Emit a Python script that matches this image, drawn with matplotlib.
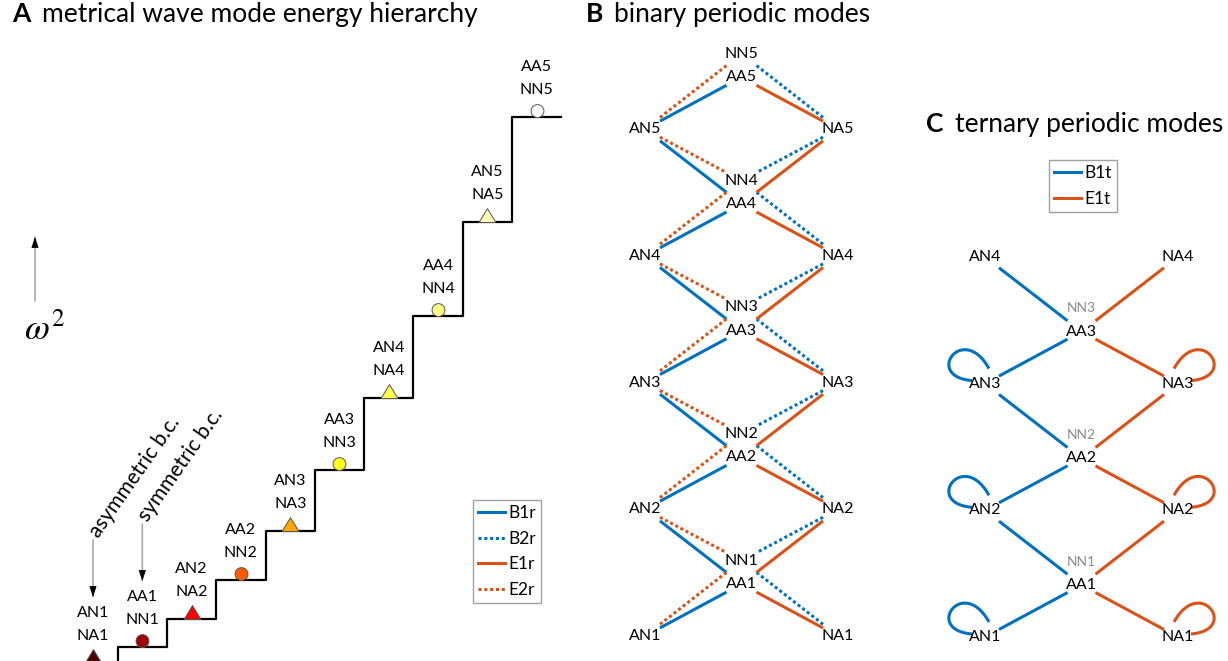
import numpy as np
import matplotlib
matplotlib.use("Agg")
import matplotlib.pyplot as plt
from matplotlib.lines import Line2D
from matplotlib.path import Path
from matplotlib import transforms

plt.rcParams['font.family'] = ['Lato', 'DejaVu Sans']
plt.rcParams['mathtext.fontset'] = 'stix'

W, H = 1228, 661
BLUE = '#0072BD'
ORANGE = '#D95319'

# ---- panel A: energy ladder ----
step_modes = [("AN1", "NA1"), ("AA1", "NN1"), ("AN2", "NA2"), ("AA2", "NN2"),
              ("AN3", "NA3"), ("AA3", "NN3"), ("AN4", "NA4"), ("AA4", "NN4"),
              ("AN5", "NA5"), ("AA5", "NN5")]
omega2 = [0, 16, 44, 83, 132, 193, 265, 347, 441, 546]
step_colors = ["#4a0000", "#a00000", "#ff0000", "#ff5a00", "#ffa500",
               "#ffff20", "#ffff4a", "#ffff85", "#ffffb5", "#ffffff"]
bc_labels = ["asymmetric b.c.", "symmetric b.c."]

# ---- panel B: binary periodic modes ----
b_nodes = ["AN1", "AN2", "AN3", "AN4", "AN5", "NA1", "NA2", "NA3", "NA4", "NA5",
           "AA1", "AA2", "AA3", "AA4", "AA5", "NN1", "NN2", "NN3", "NN4", "NN5"]
b_edges = {
    "B1r": [("AN1", "AA1"), ("AN2", "AA1"), ("AN2", "AA2"), ("AN3", "AA2"), ("AN3", "AA3"),
            ("AN4", "AA3"), ("AN4", "AA4"), ("AN5", "AA4"), ("AN5", "AA5")],
    "B2r": [("NA1", "NN1"), ("NA2", "NN1"), ("NA2", "NN2"), ("NA3", "NN2"), ("NA3", "NN3"),
            ("NA4", "NN3"), ("NA4", "NN4"), ("NA5", "NN4"), ("NA5", "NN5")],
    "E1r": [("NA1", "AA1"), ("NA2", "AA1"), ("NA2", "AA2"), ("NA3", "AA2"), ("NA3", "AA3"),
            ("NA4", "AA3"), ("NA4", "AA4"), ("NA5", "AA4"), ("NA5", "AA5")],
    "E2r": [("AN1", "NN1"), ("AN2", "NN1"), ("AN2", "NN2"), ("AN3", "NN2"), ("AN3", "NN3"),
            ("AN4", "NN3"), ("AN4", "NN4"), ("AN5", "NN4"), ("AN5", "NN5")],
}
b_styles = {"B1r": (BLUE, '-'), "B2r": (BLUE, (0, (1, 0.9))),
            "E1r": (ORANGE, '-'), "E2r": (ORANGE, (0, (1, 0.9)))}

# ---- panel C: ternary periodic modes ----
c_nodes = ["AN1", "AN2", "AN3", "AN4", "NA1", "NA2", "NA3", "NA4", "AA1", "AA2", "AA3"]
c_faint = ["NN1", "NN2", "NN3"]
c_edges = {
    "B1t": [("AN1", "AA1"), ("AN2", "AA1"), ("AN2", "AA2"), ("AN3", "AA2"), ("AN3", "AA3"), ("AN4", "AA3")],
    "E1t": [("NA1", "AA1"), ("NA2", "AA1"), ("NA2", "AA2"), ("NA3", "AA2"), ("NA3", "AA3"), ("NA4", "AA3")],
}
c_loops = {"B1t": ["AN1", "AN2", "AN3"], "E1t": ["NA1", "NA2", "NA3"]}
c_colors = {"B1t": BLUE, "E1t": ORANGE}

fig = plt.figure(figsize=(W / 100, H / 100), dpi=100)
LAB = 11.5


def overlay_axes(x0, sx, y0, sy):
    # data (0, 0) at pixel (x0, y0) counted from top-left, sx/sy pixels per unit
    ax = fig.add_axes([0, 0, 1, 1])
    ax.set_xlim(-x0 / sx, (W - x0) / sx)
    ax.set_ylim((y0 - H) / sy, y0 / sy)
    ax.axis("off")
    ax.patch.set_alpha(0)
    return ax


def node_xy(name):
    kind, k = name[:2], int(name[2:])
    x = {"AN": 0, "AA": 1, "NN": 1, "NA": 2}[kind]
    y = k - 1 + {"AN": 0, "NA": 0, "AA": 0.41, "NN": 0.595}[kind]
    return x, y


def draw_edge(ax, a, b, color, ls, trim=0.155):
    (x1, y1), (x2, y2) = node_xy(a), node_xy(b)
    t = np.array([trim, 1 - trim])
    ax.plot(x1 + (x2 - x1) * t, y1 + (y2 - y1) * t, color=color, ls=ls, lw=2.2,
            solid_capstyle='butt')


# ================= A =================
axA = overlay_axes(93, 49.3, 663, 1.0)
axA.step(np.arange(len(omega2) + 1) - 0.5, omega2 + [omega2[-1]], where='post',
         color='black', lw=1.6)

tri = Path([(-1, 0), (1, 0), (0, 1.65), (-1, 0)], closed=True)
circ = Path.unit_circle().transformed(transforms.Affine2D().translate(0, 1))
for i, (top, bottom) in enumerate(step_modes):
    if top.startswith("AN"):
        axA.plot(i, omega2[i], marker=tri, ms=20, mfc=step_colors[i], mec='#555555',
                 mew=0.7, clip_on=False)
    else:
        axA.plot(i, omega2[i], marker=circ, ms=18.5, mfc=step_colors[i], mec='#555555',
                 mew=0.7, clip_on=False)
    axA.annotate(top, (i, omega2[i]), xytext=(0, 36), textcoords='offset points',
                 ha='center', va='center', fontsize=LAB, annotation_clip=False)
    axA.annotate(bottom, (i, omega2[i]), xytext=(0, 19.4), textcoords='offset points',
                 ha='center', va='center', fontsize=LAB, annotation_clip=False)

for i, lab in enumerate(bc_labels):
    tip = transforms.offset_copy(axA.transData, fig=fig, x=0, y=66, units='dots')
    tail = transforms.offset_copy(axA.transData, fig=fig, x=0, y=123, units='dots')
    head = transforms.offset_copy(axA.transData, fig=fig, x=0, y=76, units='dots')
    axA.annotate('', xy=(i, omega2[i]), xycoords=tip, xytext=(i, omega2[i]), textcoords=tail,
                 arrowprops=dict(arrowstyle='-', color='#aaaaaa', lw=1.2, shrinkA=0, shrinkB=0))
    axA.annotate('', xy=(i, omega2[i]), xycoords=tip, xytext=(i, omega2[i]), textcoords=head,
                 arrowprops=dict(arrowstyle='-|>,head_length=0.6,head_width=0.2', color='black',
                                 lw=0.6, mutation_scale=11, shrinkA=0, shrinkB=0))
    ttrans = transforms.offset_copy(axA.transData, fig=fig, x=1, y=128, units='dots')
    axA.text(i, omega2[i], lab, transform=ttrans, rotation=55, rotation_mode='anchor',
             ha='left', va='center', fontsize=15)

axA.annotate('', xy=(35, H - 237), xycoords='figure pixels', xytext=(35, H - 301),
             textcoords='figure pixels',
             arrowprops=dict(arrowstyle='-', color='#aaaaaa', lw=1.2, shrinkA=0, shrinkB=0))
axA.annotate('', xy=(35, H - 237), xycoords='figure pixels', xytext=(35, H - 247),
             textcoords='figure pixels',
             arrowprops=dict(arrowstyle='-|>,head_length=0.6,head_width=0.2', color='black',
                             lw=0.6, mutation_scale=11, shrinkA=0, shrinkB=0))
fig.text(24 / W, 1 - 340 / H, r'$\omega^2$', fontsize=26, ha='left', va='baseline')

# ================= B =================
axB = overlay_axes(645, 96.5, 636, 126.7)
for key, pairs in b_edges.items():
    color, ls = b_styles[key]
    for a, b in pairs:
        draw_edge(axB, a, b, color, ls)
for name in b_nodes:
    x, y = node_xy(name)
    axB.text(x, y, name, ha='center', va='center', fontsize=LAB)

# ================= C =================
axC = overlay_axes(985, 96.5, 637, 126.7)
for key, pairs in c_edges.items():
    for a, b in pairs:
        draw_edge(axC, a, b, c_colors[key], '-', trim=0.145)

# loop shape as pixel offsets from the node centre (cubic Bezier)
ctrl = np.array([(-13, 3), (-62, 7), (-22, 62), (4, 15)], dtype=float)
tt = np.linspace(0, 1, 60)[:, None]
bez = ((1 - tt) ** 3 * ctrl[0] + 3 * (1 - tt) ** 2 * tt * ctrl[1]
       + 3 * (1 - tt) * tt ** 2 * ctrl[2] + tt ** 3 * ctrl[3])
for key, names in c_loops.items():
    for name in names:
        x, y = node_xy(name)
        sgn = -1 if name.startswith("NA") else 1
        axC.plot(x + sgn * bez[:, 0] / 96.5, y + bez[:, 1] / 126.7,
                 color=c_colors[key], lw=2.2, solid_capstyle='butt')
for name in c_nodes:
    x, y = node_xy(name)
    axC.text(x, y, name, ha='center', va='center', fontsize=LAB)
for name in c_faint:
    x, y = node_xy(name)
    axC.text(x, y, name, ha='center', va='center', fontsize=10, color='#8c8c8c')

# ================= legends & titles =================
leg_kw = dict(loc='upper left', fontsize=12.5, frameon=True, fancybox=False,
              edgecolor='#a0a0a0', framealpha=1, handlelength=1.55, handletextpad=0.2,
              labelspacing=0.55, borderpad=0.3, borderaxespad=0)
legB = [Line2D([], [], color=b_styles[k][0], ls=b_styles[k][1], lw=2.2) for k in b_edges]
fig.legend(legB, list(b_edges), bbox_to_anchor=(473 / W, 1 - 500 / H), **leg_kw)
legC = [Line2D([], [], color=c_colors[k], lw=2.2) for k in c_edges]
fig.legend(legC, list(c_edges), bbox_to_anchor=(1049 / W, 1 - 160 / H), **leg_kw)

titles = [(12, 42, 22, "A", "metrical wave mode energy hierarchy"),
          (586, 614, 22, "B", "binary periodic modes"),
          (926, 955, 132, "C", "ternary periodic modes")]
for xl, xt, yb, letter, text in titles:
    fig.text(xl / W, 1 - yb / H, letter, fontsize=19, weight='bold', va='baseline')
    fig.text(xt / W, 1 - yb / H, text, fontsize=19, va='baseline')

fig.savefig("out.png", dpi=100)
